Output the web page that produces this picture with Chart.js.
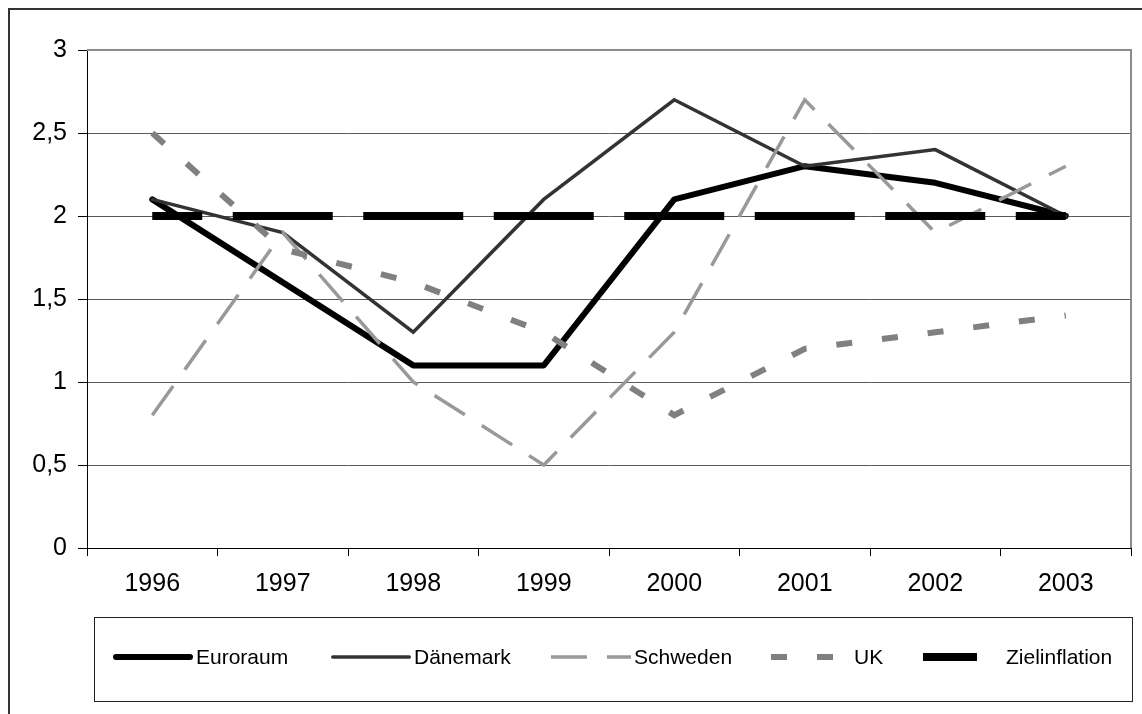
<!DOCTYPE html>
<html>
<head>
<meta charset="utf-8">
<script src="https://cdn.jsdelivr.net/npm/chart.js@4/dist/chart.umd.min.js"></script>
<style>
  html, body { margin: 0; padding: 0; background: #fff; }
  #wrap { width: 1142px; height: 714px; position: relative; }
</style>
</head>
<body>
<div id="wrap"><canvas id="c" width="1142" height="714"></canvas></div>
<script>
const categories = ['1996', '1997', '1998', '1999', '2000', '2001', '2002', '2003'];
const euroraum  = [2.1, 1.6, 1.1, 1.1, 2.1, 2.3, 2.2, 2.0];
const daenemark = [2.1, 1.9, 1.3, 2.1, 2.7, 2.3, 2.4, 2.0];
const schweden  = [0.8, 1.9, 1.0, 0.5, 1.3, 2.7, 1.9, 2.3];
const uk        = [2.5, 1.8, 1.6, 1.3, 0.8, 1.2, 1.3, 1.4];
const ziel      = [2.0, 2.0, 2.0, 2.0, 2.0, 2.0, 2.0, 2.0];
const seriesNames = ['Euroraum', 'Dänemark', 'Schweden', 'UK', 'Zielinflation'];
const yTickLabels = ['0', '0,5', '1', '1,5', '2', '2,5', '3'];

const FONT = '"Liberation Sans", Arial, sans-serif';

const frame = {
  id: 'frame',
  beforeDraw(chart) {
    const ctx = chart.ctx;
    ctx.save();
    ctx.fillStyle = '#fff';
    ctx.fillRect(0, 0, chart.width, chart.height);
    ctx.strokeStyle = '#333';
    ctx.lineWidth = 2;
    ctx.beginPath();
    ctx.moveTo(9, chart.height + 2);
    ctx.lineTo(9, 9);
    ctx.lineTo(chart.width + 2, 9);
    ctx.stroke();
    ctx.restore();
  },
  afterDatasetsDraw(chart) {
    const ctx = chart.ctx, a = chart.chartArea;
    ctx.save();
    ctx.strokeStyle = '#8c8c8c';
    ctx.lineWidth = 2;
    ctx.beginPath();
    ctx.moveTo(a.left, a.top);
    ctx.lineTo(a.right, a.top);
    ctx.lineTo(a.right, a.bottom);
    ctx.stroke();
    ctx.restore();
  },
  afterDraw(chart) {
    const ctx = chart.ctx;
    ctx.save();
    ctx.strokeStyle = '#222';
    ctx.lineWidth = 1;
    ctx.strokeRect(94.5, 617.5, 1038, 84);
    const starts = [113, 331, 551, 771, 923];
    const ly = 657;
    chart.data.datasets.forEach((ds, i) => {
      const x0 = starts[i], x1 = x0 + 80;
      ctx.save();
      ctx.strokeStyle = ds.borderColor;
      ctx.lineWidth = ds.borderWidth;
      ctx.lineCap = ds.legendCap || 'butt';
      ctx.setLineDash(ds.borderDash || []);
      ctx.lineDashOffset = ds.legendDashOffset || 0;
      ctx.beginPath();
      ctx.moveTo(x0 + (ctx.lineCap === 'round' ? ds.borderWidth / 2 : 0), ly);
      ctx.lineTo(x1 - (ctx.lineCap === 'round' ? ds.borderWidth / 2 : 0), ly);
      ctx.stroke();
      ctx.restore();
      ctx.fillStyle = '#000';
      ctx.font = '21px ' + FONT;
      ctx.textBaseline = 'middle';
      ctx.textAlign = 'left';
      ctx.fillText(ds.label, x1 + 3, ly + 1);
    });
    ctx.restore();
  }
};

new Chart(document.getElementById('c'), {
  type: 'line',
  data: {
    labels: categories,
    datasets: [
      { label: seriesNames[0], data: euroraum, borderColor: '#000000', borderWidth: 6,
        borderCapStyle: 'round', borderJoinStyle: 'round', legendCap: 'round', order: 4 },
      { label: seriesNames[1], data: daenemark, borderColor: '#333333', borderWidth: 3.5,
        borderCapStyle: 'round', borderJoinStyle: 'miter', legendCap: 'round', order: 3 },
      { label: seriesNames[2], data: schweden, borderColor: '#999999', borderWidth: 3.5,
        borderDash: [36, 20], order: 2 },
      { label: seriesNames[3], data: uk, borderColor: '#808080', borderWidth: 6,
        borderDash: [16, 30], order: 1 },
      { label: seriesNames[4], data: ziel, borderColor: '#000000', borderWidth: 8,
        borderDash: [100, 30.5], borderDashOffset: 50, legendDashOffset: 46, order: 0 }
    ]
  },
  options: {
    responsive: false,
    animation: false,
    devicePixelRatio: 1,
    layout: { padding: { left: 0, right: 11, top: 50, bottom: 0 } },
    elements: { point: { radius: 0, hoverRadius: 0 }, line: { tension: 0, fill: false } },
    plugins: { legend: { display: false }, tooltip: { enabled: false } },
    events: [],
    scales: {
      x: {
        type: 'category',
        offset: true,
        afterFit(s) { s.height = 166; },
        grid: { offset: true, drawOnChartArea: false, drawTicks: true, tickLength: 8, color: '#000', lineWidth: 1 },
        border: { display: true, color: '#000', width: 1 },
        ticks: { color: '#000', font: { family: FONT, size: 25 }, padding: 13, maxRotation: 0, autoSkip: false }
      },
      y: {
        min: 0, max: 3,
        afterFit(s) { s.width = 87; },
        afterBuildTicks(s) { s.ticks = yTickLabels.map((t, i) => ({ value: i * 0.5 })); },
        grid: { color: '#5a5a5a', lineWidth: 1, drawTicks: true, tickLength: 9, tickColor: '#000' },
        border: { display: true, color: '#000', width: 1 },
        ticks: {
          color: '#000', font: { family: FONT, size: 25 }, padding: 11,
          callback: (v, i) => yTickLabels[i]
        }
      }
    }
  },
  plugins: [frame]
});
</script>
</body>
</html>
